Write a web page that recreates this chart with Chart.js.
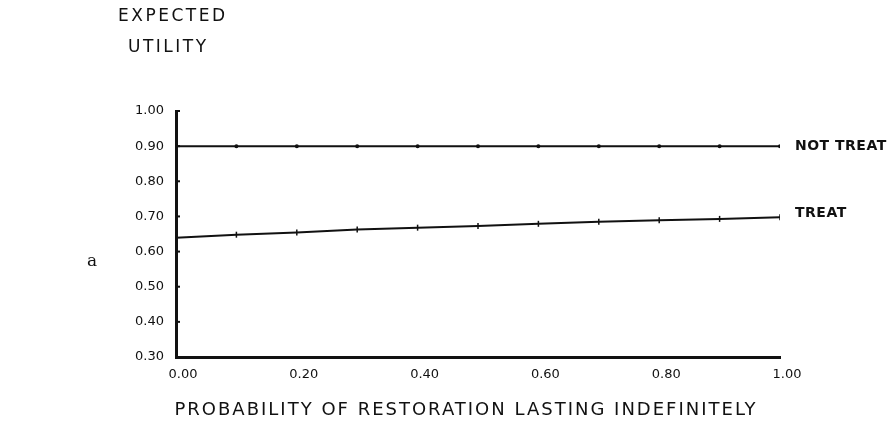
<!DOCTYPE html>
<html>
<head>
<meta charset="utf-8">
<script src="https://cdn.jsdelivr.net/npm/chart.js@4"></script>
<style>
  html, body { margin: 0; padding: 0; background: #fff; }
  #wrap { width: 896px; height: 433px; position: relative; }
</style>
</head>
<body>
<div id="wrap"><canvas id="chart" width="896" height="433"></canvas></div>
<script>
"use strict";

// Probability of restoration lasting indefinitely
const probabilities = [0, 0.1, 0.2, 0.3, 0.4, 0.5, 0.6, 0.7, 0.8, 0.9, 1.0];
const notTreat = [0.90, 0.90, 0.90, 0.90, 0.90, 0.90, 0.90, 0.90, 0.90, 0.90, 0.90];
const treat = [0.639, 0.648, 0.654, 0.663, 0.668, 0.673, 0.679, 0.685, 0.689, 0.693, 0.698];
const seriesNames = ["NOT TREAT", "TREAT"];
const yTicks = [0.3, 0.4, 0.5, 0.6, 0.7, 0.8, 0.9, 1.0];
const xTicks = [0, 0.2, 0.4, 0.6, 0.8, 1.0];

const INK = "#111";
const FONT = "'DejaVu Sans', sans-serif";

const toPoints = (ys) => probabilities.map((x, i) => ({ x, y: ys[i] }));

// Titles, panel letter, inward y ticks and end-of-line labels.
const annotations = {
  id: "annotations",
  afterDraw(chart) {
    const { ctx, scales: { x, y } } = chart;
    ctx.save();
    ctx.fillStyle = INK;
    ctx.strokeStyle = INK;

    // inward tick marks on the y axis
    ctx.lineWidth = 2;
    for (const v of yTicks) {
      const py = y.getPixelForValue(v);
      ctx.beginPath();
      ctx.moveTo(x.left, py);
      ctx.lineTo(x.left + 4, py);
      ctx.stroke();
    }

    ctx.textBaseline = "middle";
    ctx.textAlign = "left";
    ctx.font = "bold 14px " + FONT;
    ctx.letterSpacing = "0.5px";
    const last = probabilities.length - 1;
    const endX = x.getPixelForValue(probabilities[last]) + 15;
    ctx.fillText(seriesNames[0], endX, y.getPixelForValue(notTreat[last]));
    ctx.fillText(seriesNames[1], endX, y.getPixelForValue(treat[last]) - 4);

    ctx.font = "17px " + FONT;
    ctx.letterSpacing = "2.5px";
    ctx.fillText("EXPECTED", 118, 17);
    ctx.fillText("UTILITY", 128, 48);

    ctx.textAlign = "center";
    ctx.font = "18px " + FONT;
    ctx.letterSpacing = "2px";
    ctx.fillText("PROBABILITY OF RESTORATION LASTING INDEFINITELY", 466, 410);

    ctx.textAlign = "left";
    ctx.letterSpacing = "0px";
    ctx.font = "17px 'DejaVu Serif', serif";
    ctx.fillText("a", 87, 262);
    ctx.restore();
  },
};

const tickFont = { family: FONT, size: 13 };

new Chart(document.getElementById("chart"), {
  type: "line",
  data: {
    datasets: [
      {
        label: seriesNames[0],
        data: toPoints(notTreat),
        borderColor: INK,
        backgroundColor: INK,
        borderWidth: 2,
        pointRadius: 2,
        pointBorderWidth: 0,
      },
      {
        label: seriesNames[1],
        data: toPoints(treat),
        borderColor: INK,
        backgroundColor: INK,
        borderWidth: 2,
        pointStyle: "line",
        pointRotation: 90,
        pointRadius: 3,
        pointBorderWidth: 1.5,
      },
    ],
  },
  options: {
    responsive: false,
    animation: false,
    layout: { padding: { top: 111, right: 116, left: 0, bottom: 0 } },
    plugins: { legend: { display: false }, tooltip: { enabled: false } },
    scales: {
      x: {
        type: "linear",
        min: 0,
        max: 1,
        afterFit: (s) => { s.height = 76; },
        afterBuildTicks: (s) => { s.ticks = xTicks.map((value) => ({ value })); },
        border: { color: INK, width: 3 },
        grid: { display: false },
        ticks: {
          color: INK,
          font: tickFont,
          padding: 2,
          labelOffset: 7,
          maxRotation: 0,
          callback: (v) => Number(v).toFixed(2),
        },
      },
      y: {
        min: 0.3,
        max: 1.0,
        afterFit: (s) => { s.width = 176; },
        afterBuildTicks: (s) => { s.ticks = yTicks.map((value) => ({ value })); },
        border: { color: INK, width: 3 },
        grid: { display: false },
        ticks: {
          color: INK,
          font: tickFont,
          padding: 4,
          callback: (v) => Number(v).toFixed(2),
        },
      },
    },
  },
  plugins: [annotations],
});
</script>
</body>
</html>
